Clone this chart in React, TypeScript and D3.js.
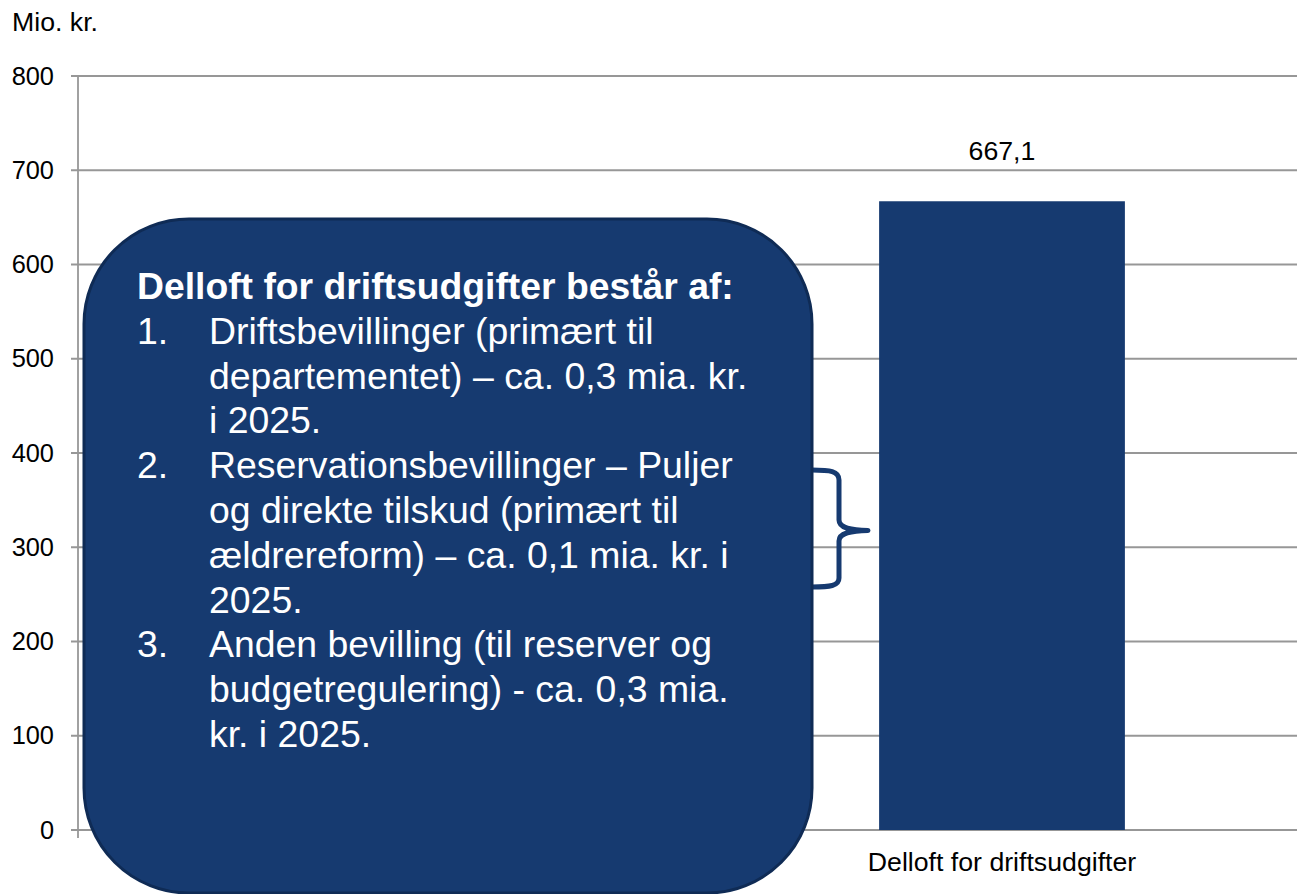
import React from 'react';
import * as d3 from 'd3';

const categories = ['Delloft for driftsudgifter'];
const values = [667.1];
const valueLabels = ['667,1'];
const yTicks = [0, 100, 200, 300, 400, 500, 600, 700, 800];
const unitLabel = 'Mio. kr.';

const boxTitle = 'Delloft for driftsudgifter består af:';
const boxItems = [
  { num: '1.', lines: ['Driftsbevillinger (primært til', 'departementet) – ca. 0,3 mia. kr.', 'i 2025.'] },
  { num: '2.', lines: ['Reservationsbevillinger – Puljer', 'og direkte tilskud (primært til', 'ældrereform) – ca. 0,1 mia. kr. i', '2025.'] },
  { num: '3.', lines: ['Anden bevilling (til reserver og', 'budgetregulering) - ca. 0,3 mia.', 'kr. i 2025.'] },
];

const W = 1297;
const H = 894;
const font = 'Arial, "Liberation Sans", sans-serif';
const navy = '#163a70';
const grid = '#979797';

const App = () => {
  const left = 78;
  const top = 76;
  const bottom = 830;

  const y = d3.scaleLinear().domain([0, 800]).range([bottom, top]);
  // plot area runs past the right edge of the picture
  const x = d3.scaleBand<string>()
    .domain(categories)
    .range([left, 1926])
    .paddingInner(0.867)
    .paddingOuter(0.4335);

  // text lines inside the callout, evenly spaced
  const lineH = 44.8;
  let cy = 299;
  const rows: { num?: string; text: string; y: number }[] = [];
  boxItems.forEach(it => {
    it.lines.forEach((t, j) => {
      cy += lineH;
      rows.push({ num: j === 0 ? it.num : undefined, text: t, y: cy });
    });
  });

  const brace = 'M812,470 C830,470 839,471 839,480 L839,520 C839,528 850,530 868,530.5 C850,531 839,533 839,541 L839,578 C839,586 830,587 812,587';

  return (
    <svg width={W} height={H} style={{ position: 'absolute', left: 0, top: 0 }} fontFamily={font}>
      <rect width={W} height={H} fill="#fff" />
      <text x={12} y={31} fontSize={26.7}>{unitLabel}</text>

      {yTicks.map(t => (
        <g key={t}>
          <line x1={left - 7} x2={W} y1={y(t)} y2={y(t)} stroke={grid} strokeWidth={1.8} />
          <text x={54} y={y(t) + 8.5} fontSize={25.4} textAnchor="end">{t}</text>
        </g>
      ))}
      <line x1={left} x2={left} y1={top} y2={bottom + 8} stroke={grid} strokeWidth={1.8} />

      {categories.map((c, i) => (
        <g key={c}>
          <rect x={x(c)} y={y(values[i])} width={x.bandwidth()} height={y(0) - y(values[i])} fill={navy} />
          <text x={x(c)! + x.bandwidth() / 2} y={y(values[i]) - 41} fontSize={26.7} textAnchor="middle">{valueLabels[i]}</text>
          <text x={x(c)! + x.bandwidth() / 2} y={bottom + 41} fontSize={26.7} textAnchor="middle">{c}</text>
        </g>
      ))}

      <path d={brace} fill="none" stroke={navy} strokeWidth={5} strokeLinecap="round" strokeLinejoin="round" />

      <rect x={84} y={219} width={728} height={674} rx={105} ry={105} fill={navy} stroke="#0f2b55" strokeWidth={3} />
      <text x={137} y={299} fontSize={37.3} fontWeight="bold" fill="#fff">{boxTitle}</text>
      {rows.map((r, i) => (
        <g key={i} fill="#fff" fontSize={37.4}>
          {r.num && <text x={137} y={r.y}>{r.num}</text>}
          <text x={209} y={r.y}>{r.text}</text>
        </g>
      ))}
    </svg>
  );
};

export default App;
